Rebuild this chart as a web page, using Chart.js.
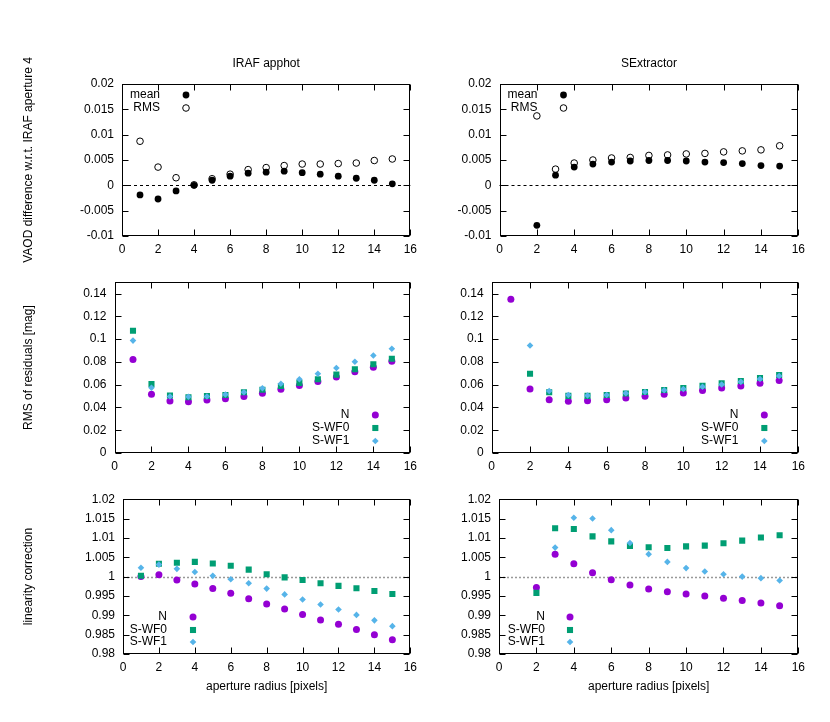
<!DOCTYPE html>
<html><head><meta charset="utf-8">
<script src="https://cdn.jsdelivr.net/npm/chart.js@4/dist/chart.umd.min.js"></script>
<style>
html,body{margin:0;padding:0;background:#fff;width:830px;height:722px;overflow:hidden;position:relative}
canvas{position:absolute}
</style></head><body>
<canvas id="c0"></canvas><canvas id="c1"></canvas>
<canvas id="c2"></canvas><canvas id="c3"></canvas>
<canvas id="c4"></canvas><canvas id="c5"></canvas>
<script>
// ---------------- data ----------------
const radius = [1,2,3,4,5,6,7,8,9,10,11,12,13,14,15];
const xTicks = [0,2,4,6,8,10,12,14,16];
const vaodTicks = [-0.01,-0.005,0,0.005,0.01,0.015,0.02];
const rmsTicks = [0,0.02,0.04,0.06,0.08,0.1,0.12,0.14];
const linTicks = [0.98,0.985,0.99,0.995,1,1.005,1.01,1.015,1.02];
const columnTitles = ['IRAF apphot','SExtractor'];

const irafMean = [-0.0019,-0.0027,-0.0011,0.0000,0.0010,0.0018,0.0024,0.0026,0.0028,0.0025,0.0022,0.0018,0.0014,0.0010,0.0003];
const irafRms  = [0.0087,0.0036,0.0015,0.0001,0.0013,0.0022,0.0031,0.0035,0.0039,0.0042,0.0042,0.0043,0.0044,0.0049,0.0052];
const sexMean  = [null,-0.0079,0.0020,0.0036,0.0042,0.0046,0.0048,0.0049,0.0049,0.0048,0.0046,0.0045,0.0043,0.0039,0.0038];
const sexRms   = [null,0.0137,0.0032,0.0044,0.0050,0.0054,0.0055,0.0059,0.0060,0.0062,0.0063,0.0066,0.0068,0.0070,0.0078];

const irafResN   = [0.0822,0.0516,0.0456,0.0451,0.0465,0.0476,0.0496,0.0525,0.0559,0.0593,0.0628,0.0668,0.0713,0.0753,0.0805];
const irafResWF0 = [0.1073,0.0605,0.0505,0.0490,0.0500,0.0510,0.0533,0.0556,0.0588,0.0616,0.0648,0.0688,0.0736,0.0779,0.0827];
const irafResWF1 = [0.0987,0.0573,0.0496,0.0494,0.0496,0.0514,0.0533,0.0568,0.0608,0.0648,0.0696,0.0747,0.0802,0.0856,0.0916];
const sexResN    = [0.1350,0.0562,0.0468,0.0454,0.0459,0.0468,0.0482,0.0499,0.0516,0.0528,0.0548,0.0571,0.0588,0.0613,0.0636];
const sexResWF0  = [null,0.0696,0.0533,0.0502,0.0502,0.0510,0.0522,0.0536,0.0553,0.0571,0.0591,0.0613,0.0633,0.0659,0.0685];
const sexResWF1  = [null,0.0944,0.0545,0.0510,0.0505,0.0510,0.0525,0.0536,0.0551,0.0562,0.0582,0.0602,0.0625,0.0650,0.0676];

const irafLinN   = [1.0000,1.0005,0.9991,0.9981,0.9969,0.9957,0.9943,0.9929,0.9916,0.9902,0.9888,0.9877,0.9863,0.9850,0.9837];
const irafLinWF0 = [1.0002,1.0033,1.0036,1.0038,1.0034,1.0028,1.0018,1.0006,0.9998,0.9991,0.9983,0.9976,0.9970,0.9963,0.9955];
const irafLinWF1 = [1.0023,1.0031,1.0020,1.0012,1.0002,0.9993,0.9983,0.9969,0.9954,0.9941,0.9928,0.9915,0.9901,0.9887,0.9872];
const sexLinN    = [null,0.9972,1.0058,1.0033,1.0010,0.9992,0.9978,0.9968,0.9961,0.9955,0.9950,0.9944,0.9938,0.9932,0.9925];
const sexLinWF0  = [null,0.9958,1.0125,1.0123,1.0104,1.0091,1.0079,1.0076,1.0074,1.0078,1.0080,1.0086,1.0093,1.0101,1.0107];
const sexLinWF1  = [null,null,1.0075,1.0152,1.0150,1.0120,1.0087,1.0058,1.0038,1.0022,1.0013,1.0006,1.0000,0.9996,0.9990];

// ---------------- styling ----------------
const FONT = "'Liberation Sans', Arial, Helvetica, sans-serif";
const PURPLE = '#9400D3', GREEN = '#009E73', BLUE = '#56B4E9';

function pts(arr){ return radius.map((x,i)=>({x:x,y:arr[i]})).filter(p=>p.y!==null); }
function fmt(v){ return String(parseFloat(Number(v).toPrecision(6))); }

function meanSets(mean, rms){
  return [
    {label:'mean', data:pts(mean), pointStyle:'circle', pointRadius:3.4, backgroundColor:'#000', borderColor:'#000', borderWidth:0, order:1},
    {label:'RMS', data:pts(rms), pointStyle:'circle', pointRadius:3.3, backgroundColor:'rgba(255,255,255,0)', borderColor:'#000', borderWidth:1, order:2}
  ];
}
function trioSets(n, w0, w1){
  return [
    {label:'N', data:pts(n), pointStyle:'circle', pointRadius:3.5, backgroundColor:PURPLE, borderColor:PURPLE, borderWidth:0, order:3},
    {label:'S-WF0', data:pts(w0), pointStyle:'rect', pointRadius:4.3, backgroundColor:GREEN, borderColor:GREEN, borderWidth:0, order:2},
    {label:'S-WF1', data:pts(w1), pointStyle:'rectRot', pointRadius:3.3, backgroundColor:BLUE, borderColor:BLUE, borderWidth:0, order:1}
  ];
}

function drawMarker(ctx, ds, x, y){
  ctx.save();
  ctx.fillStyle = ds.backgroundColor; ctx.strokeStyle = ds.borderColor; ctx.lineWidth = ds.borderWidth || 0;
  const r = ds.pointRadius;
  ctx.beginPath();
  if (ds.pointStyle === 'rect') { const s = r*Math.SQRT1_2; ctx.rect(x-s, y-s, 2*s, 2*s); }
  else if (ds.pointStyle === 'rectRot') { ctx.moveTo(x, y-r); ctx.lineTo(x+r, y); ctx.lineTo(x, y+r); ctx.lineTo(x-r, y); ctx.closePath(); }
  else ctx.arc(x, y, r, 0, Math.PI*2);
  ctx.fill();
  if (ds.borderWidth > 0) ctx.stroke();
  ctx.restore();
}

const framePlugin = {
  id: 'frame',
  beforeDatasetsDraw(chart, args, opts){
    const {ctx, chartArea:a, scales} = chart;
    if (opts.ref){
      const yy = Math.round(scales.y.getPixelForValue(opts.ref.value)) + 0.5;
      ctx.save();
      ctx.strokeStyle = opts.ref.color; ctx.lineWidth = opts.ref.width; ctx.setLineDash(opts.ref.dash);
      ctx.beginPath(); ctx.moveTo(a.left, yy); ctx.lineTo(a.right, yy); ctx.stroke();
      ctx.restore();
    }
  },
  afterDraw(chart, args, opts){
    const {ctx, chartArea:a, scales} = chart;
    ctx.save();
    ctx.strokeStyle = '#000'; ctx.lineWidth = 1;
    const L = Math.round(a.left)+0.5, R = Math.round(a.right)-0.5, T = Math.round(a.top)+0.5, B = Math.round(a.bottom)-0.5;
    ctx.strokeRect(L, T, R-L, B-T);
    const tl = 6;
    ctx.beginPath();
    scales.x.ticks.forEach(t=>{
      const px = Math.round(scales.x.getPixelForValue(t.value))+0.5;
      ctx.moveTo(px, B); ctx.lineTo(px, B-tl);
      ctx.moveTo(px, T); ctx.lineTo(px, T+tl);
    });
    scales.y.ticks.forEach(t=>{
      const py = Math.round(scales.y.getPixelForValue(t.value))+0.5;
      ctx.moveTo(L, py); ctx.lineTo(L+tl, py);
      ctx.moveTo(R, py); ctx.lineTo(R-tl, py);
    });
    ctx.stroke();
    // key
    const k = opts.key;
    if (k){
      ctx.font = '12px ' + FONT; ctx.fillStyle = '#000'; ctx.textAlign = 'right'; ctx.textBaseline = 'middle';
      const baseX = k.fromRight ? a.right : a.left;
      const baseY = k.fromBottom ? a.bottom : a.top;
      chart.data.datasets.forEach((ds, i)=>{
        const y = baseY + k.rows[i];
        ctx.fillText(ds.label, baseX + k.textDx, y);
        drawMarker(ctx, ds, baseX + k.markDx, y);
      });
    }
    ctx.restore();
  }
};

// ---------------- layout of the six panels ----------------
const panels = [
  {id:'c0', left:0,   top:40,  plotL:122,   plotR:413, plotT:84,  plotB:236, xH:30, title:columnTitles[0], yTitle:'VAOD difference w.r.t. IRAF aperture 4', ticks:vaodTicks, min:-0.01, max:0.02, sets:meanSets(irafMean, irafRms), ref:{value:0,color:'#000',width:1,dash:[3,3]}, key:{textDx:38,markDx:64,rows:[11,24]}},
  {id:'c1', left:440, top:40,  plotL:499.5, plotR:801, plotT:84,  plotB:236, xH:30, title:columnTitles[1], ticks:vaodTicks, min:-0.01, max:0.02, sets:meanSets(sexMean, sexRms), ref:{value:0,color:'#000',width:1,dash:[3,3]}, key:{textDx:38,markDx:64,rows:[11,24]}},
  {id:'c2', left:0,   top:267, plotL:114.5, plotR:413, plotT:277, plotB:453, xH:30, yTitle:'RMS of residuals [mag]', ticks:rmsTicks, min:0, max:0.15, sets:trioSets(irafResN, irafResWF0, irafResWF1), key:{fromRight:true,fromBottom:true,textDx:-61,markDx:-35,rows:[-38,-25,-12]}},
  {id:'c3', left:440, top:267, plotL:491.7, plotR:801, plotT:277, plotB:453, xH:30, ticks:rmsTicks, min:0, max:0.15, sets:trioSets(sexResN, sexResWF0, sexResWF1), key:{fromRight:true,fromBottom:true,textDx:-60,markDx:-34,rows:[-38,-25,-12]}},
  {id:'c4', left:0,   top:484, plotL:123,   plotR:413, plotT:494, plotB:654, xH:45, xTitle:'aperture radius [pixels]', yTitle:'linearity correction', ticks:linTicks, min:0.98, max:1.02, sets:trioSets(irafLinN, irafLinWF0, irafLinWF1), ref:{value:1,color:'#999',width:1.5,dash:[2,2]}, key:{textDx:44,markDx:70,rows:[-37,-24,-12],fromBottom:true}},
  {id:'c5', left:440, top:484, plotL:499,   plotR:801, plotT:494, plotB:654, xH:45, xTitle:'aperture radius [pixels]', ticks:linTicks, min:0.98, max:1.02, sets:trioSets(sexLinN, sexLinWF0, sexLinWF1), ref:{value:1,color:'#999',width:1.5,dash:[2,2]}, key:{textDx:46,markDx:71,rows:[-37,-24,-12],fromBottom:true}}
];

panels.forEach(p=>{
  const cv = document.getElementById(p.id);
  const W = Math.round(p.plotR + 10 - p.left);
  const H = Math.round(p.plotB + p.xH - p.top);
  cv.width = W; cv.height = H;
  cv.style.left = p.left + 'px'; cv.style.top = p.top + 'px';
  cv.style.width = W + 'px'; cv.style.height = H + 'px';
  const yW = p.plotL - p.left;
  const padTop = p.plotT - p.top;
  new Chart(cv, {
    type: 'scatter',
    data: { datasets: p.sets },
    plugins: [framePlugin],
    options: {
      responsive: false, animation: false, devicePixelRatio: 1,
      layout: { padding: { left:0, right:10, top: p.title ? 0 : padTop, bottom:0 } },
      plugins: {
        legend: { display:false }, tooltip: { enabled:false },
        title: p.title ? { display:true, text:p.title, fullSize:false, color:'#000',
                 font:{family:FONT, size:12, weight:'normal'}, padding:{top:16, bottom:padTop-16-14.4} } : { display:false },
        frame: { ref: p.ref, key: p.key }
      },
      scales: {
        x: {
          type:'linear', min:0, max:16,
          afterBuildTicks: s => { s.ticks = xTicks.map(v=>({value:v})); },
          afterFit: s => { s.height = p.xH; },
          grid: { display:false, drawTicks:false, tickLength:0 },
          border: { display:false },
          ticks: { color:'#000', font:{family:FONT, size:12}, padding:6, maxRotation:0, autoSkip:false, callback: v => fmt(v) },
          title: p.xTitle ? { display:true, text:p.xTitle, color:'#000', font:{family:FONT, size:12}, padding:{top:0, bottom:4.8} } : { display:false }
        },
        y: {
          type:'linear', min:p.min, max:p.max,
          afterBuildTicks: s => { s.ticks = p.ticks.map(v=>({value:v})); },
          afterFit: s => { s.width = yW; },
          grid: { display:false, drawTicks:false, tickLength:0 },
          border: { display:false },
          ticks: { color:'#000', font:{family:FONT, size:12}, padding:8, autoSkip:false, callback: v => fmt(v) },
          title: p.yTitle ? { display:true, text:p.yTitle, color:'#000', font:{family:FONT, size:12}, padding:{top:21, bottom:0} } : { display:false }
        }
      }
    }
  });
});
</script>
</body></html>
